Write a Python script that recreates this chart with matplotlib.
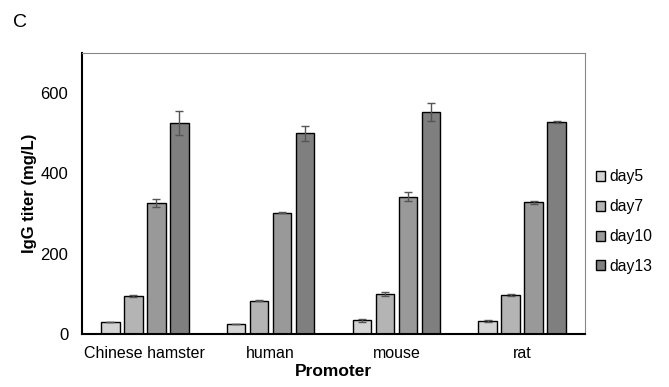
import matplotlib
matplotlib.use("Agg")
import matplotlib.pyplot as plt
import numpy as np

plt.rcParams['font.family'] = ['Liberation Sans', 'DejaVu Sans']

categories = ["Chinese hamster", "human", "mouse", "rat"]
series = ["day5", "day7", "day10", "day13"]
values = {
    "day5": [30, 25, 34, 33],
    "day7": [94, 83, 99, 97],
    "day10": [327, 302, 342, 328],
    "day13": [525, 500, 553, 528],
}
errors = {
    "day5": [1, 1, 3, 2],
    "day7": [2, 1, 5, 3],
    "day10": [10, 1, 11, 4],
    "day13": [30, 19, 22, 2],
}
colors = ["#d3d3d3", "#b4b4b4", "#999999", "#7f7f7f"]

fig = plt.figure(figsize=(6.69, 3.87), dpi=100)
ax = fig.add_axes([0.1226, 0.137, 0.7518, 0.726])

x = np.arange(len(categories))
step = 0.183
width = 0.147
for i, s in enumerate(series):
    off = (i - 1.5) * step
    ax.bar(x + off, values[s], width, color=colors[i], edgecolor="black",
           linewidth=1.0, label=s, zorder=2)
    ax.errorbar(x + off, values[s], yerr=errors[s], fmt="none", ecolor="#555555",
                elinewidth=1.0, capsize=3, capthick=1.0, zorder=3)

ax.set_xlim(-0.5, 3.5)
ax.set_ylim(0, 700)
ax.set_yticks([0, 200, 400, 600])
ax.set_xticks(x)
ax.set_xticklabels(categories)
ax.tick_params(axis="y", length=0, labelsize=12, pad=10)
ax.tick_params(axis="x", length=0, labelsize=11.5, pad=9)
for sp in ["left", "bottom"]:
    ax.spines[sp].set_color("black")
    ax.spines[sp].set_linewidth(1.5)
for sp in ["top", "right"]:
    ax.spines[sp].set_color("#888888")
    ax.spines[sp].set_linewidth(0.8)

ax.set_ylabel("IgG titer (mg/L)", fontsize=12, fontweight="bold", labelpad=2)
ax.set_xlabel("Promoter", fontsize=12.5, fontweight="bold", labelpad=2)

leg = ax.legend(loc="center left", bbox_to_anchor=(1.0, 0.40), frameon=False,
                fontsize=11.3, handlelength=0.6, handleheight=0.6,
                handletextpad=0.25, labelspacing=0.95, borderaxespad=0.3)

fig.text(0.02, 0.943, "C", fontsize=14, ha="left", va="center")

fig.savefig("out.png", dpi=100)
